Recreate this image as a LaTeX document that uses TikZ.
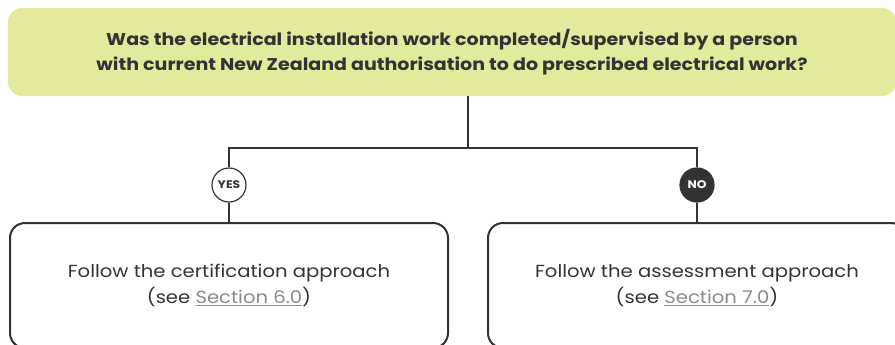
\documentclass[tikz,border=0pt]{standalone}
\usepackage{fontspec}
\setmainfont{Poppins}[FakeStretch=1.12]
\usetikzlibrary{positioning}
\definecolor{qgreen}{HTML}{E3EA9C}
\definecolor{inkdark}{HTML}{333333}
\definecolor{linkgray}{HTML}{8A8A8A}
\tikzset{
  question/.style={fill=qgreen, rounded corners=14pt, minimum width=888pt, minimum height=88pt,
    align=center, font=\fontsize{17}{25}\selectfont\bfseries, text=inkdark},
  answerbox/.style={draw=inkdark, line width=2pt, rounded corners=15pt, minimum height=125pt,
    align=center, font=\fontsize{17.5}{26}\selectfont, text=inkdark},
  choice/.style={circle, draw=inkdark, line width=1.2pt, minimum size=34pt, inner sep=0pt,
    font=\fontsize{11}{11}\selectfont\bfseries},
  link/.style={draw=inkdark, line width=1.3pt}
}
\newcommand{\seclink}[1]{\textcolor{linkgray}{\underline{#1}}}
\begin{document}
\begin{tikzpicture}[x=1pt, y=-1pt]
    \useasboundingbox (0,0) rectangle (895,345);
    \clip (0,0) rectangle (895,345);
    \node[question] at (452, 52) (q) {Was the electrical installation work completed/supervised by a person\\with current New Zealand authorisation to do prescribed electrical work?};
    \coordinate (split) at (468, 148);
    \node[choice, fill=white, text=inkdark] at (229, 185) (yes) {YES};
    \node[choice, fill=inkdark, text=white] at (697, 185) (no) {NO};
    \node[answerbox, minimum width=438pt, anchor=north] at (229, 222) (cert) {Follow the certification approach\\(see \seclink{Section 6.0})};
    \node[answerbox, minimum width=418pt, anchor=north] at (697, 222) (assess) {Follow the assessment approach\\(see \seclink{Section 7.0})};

    \draw[link] (split |- q.south) -- (split);
    \draw[link] (yes.north) |- (split) -| (no.north);
    \draw[link] (yes.south) -- (cert.north);
    \draw[link] (no.south) -- (assess.north);
\end{tikzpicture}
\end{document}
